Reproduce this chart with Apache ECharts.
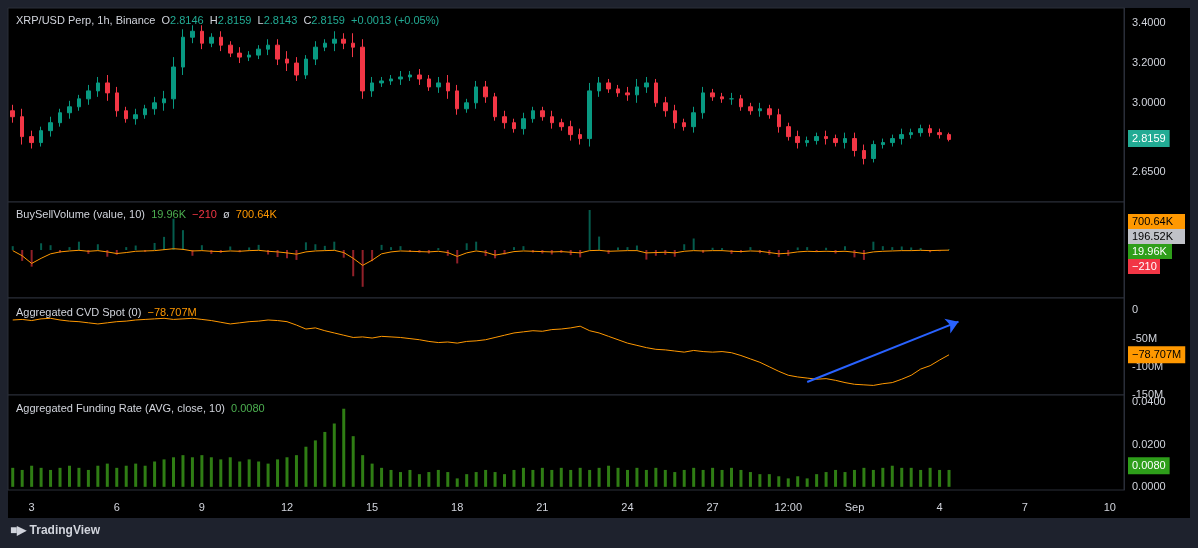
<!DOCTYPE html>
<html>
<head>
<meta charset="utf-8">
<script src="https://cdn.jsdelivr.net/npm/echarts@6/dist/echarts.min.js"></script>
<style>
html, body { margin: 0; padding: 0; background: #1e222d; }
#main { width: 1198px; height: 548px; }
</style>
</head>
<body>
<div id="main"></div>
<script>
// 8h candles, index i -> Aug 2 08:00 + i*8h
var closes = [2.93,2.83,2.80,2.86,2.90,2.95,2.98,3.02,3.06,3.10,
  3.05,2.96,2.92,2.94,2.97,3.00,3.02,3.18,3.33,3.36,
  3.30,3.33,3.29,3.25,3.23,3.24,3.27,3.29,3.22,3.20,
  3.14,3.22,3.28,3.30,3.32,3.30,3.28,3.06,3.10,3.11,
  3.12,3.13,3.14,3.12,3.08,3.10,3.06,2.97,3.00,3.08,
  3.03,2.93,2.90,2.87,2.92,2.96,2.93,2.90,2.88,2.84,
  2.82,3.06,3.10,3.07,3.05,3.04,3.08,3.10,3.00,2.96,
  2.90,2.88,2.95,3.05,3.03,3.02,3.02,2.98,2.96,2.97,
  2.94,2.88,2.83,2.80,2.81,2.83,2.82,2.80,2.82,2.76,
  2.72,2.79,2.80,2.82,2.84,2.85,2.87,2.85,2.84,2.8159];
var wicks = [.03,.04,.03,.02,.03,.02,.03,.02,.03,.03,
  .04,.03,.02,.03,.02,.03,.04,.05,.04,.03,
  .03,.02,.03,.02,.03,.02,.02,.03,.03,.04,
  .03,.02,.03,.02,.04,.03,.05,.04,.03,.02,
  .02,.03,.02,.03,.02,.03,.04,.03,.02,.03,
  .03,.02,.03,.02,.03,.02,.02,.03,.02,.03,
  .03,.04,.03,.02,.02,.03,.04,.03,.02,.03,
  .03,.02,.03,.03,.02,.02,.03,.02,.02,.03,
  .02,.03,.02,.03,.02,.02,.03,.02,.03,.03,
  .03,.02,.02,.02,.03,.02,.02,.02,.02,.01];
var buySell = [120,-340,-520,210,150,-80,90,260,-120,180,
  -210,-150,90,140,-60,220,410,980,620,-180,
  150,-120,-90,110,-70,80,160,-140,-220,-260,
  -310,240,180,130,260,-240,-820,-1150,-350,160,
  90,120,-60,-80,-110,60,-180,-420,210,260,
  -190,-260,-140,90,120,-80,-110,-140,-90,-160,
  -230,1250,420,-120,80,90,140,-300,-180,-150,
  -210,180,360,-90,70,60,-120,-80,90,-100,
  -150,-220,-180,80,90,-60,70,-110,120,-230,
  -310,260,120,90,110,80,60,-70,-40,19.96];
var bsLine = [-20,-180,-420,-260,-120,-60,-30,-10,-40,-20,
  -60,-110,-80,-40,-30,-20,10,40,20,-30,
  -20,-40,-50,-30,-40,-20,-10,-40,-60,-90,
  -130,-60,-30,-20,-10,-80,-260,-480,-320,-120,
  -60,-30,-40,-50,-60,-40,-80,-200,-90,-30,
  -70,-160,-110,-50,-30,-40,-50,-60,-50,-70,
  -90,-20,-10,-40,-30,-20,-20,-90,-80,-70,
  -90,-40,-20,-30,-20,-20,-40,-50,-30,-40,
  -80,-120,-100,-60,-40,-50,-40,-50,-40,-70,
  -110,-60,-40,-30,-20,-20,-10,-20,-10,-5];
var cvd = [-17,-16,-18,-15,-14,-17,-19,-20,-22,-24,
  -22,-20,-19,-17,-16,-15,-14,-16,-15,-14,
  -16,-18,-21,-24,-22,-20,-19,-17,-18,-20,
  -26,-33,-31,-36,-40,-44,-48,-47,-49,-46,
  -47,-48,-50,-52,-55,-57,-56,-58,-55,-54,
  -52,-48,-44,-40,-38,-36,-37,-34,-33,-31,
  -28,-36,-40,-46,-52,-58,-62,-66,-69,-70,
  -72,-74,-71,-73,-74,-73,-75,-80,-86,-92,
  -100,-108,-115,-118,-120,-122,-121,-124,-128,-131,
  -132,-133,-130,-128,-122,-115,-104,-98,-88,-78.707];
var funding = [.009,.008,.010,.009,.008,.009,.010,.009,.008,.010,
  .011,.009,.010,.011,.010,.012,.013,.014,.015,.014,
  .015,.014,.013,.014,.012,.013,.012,.011,.013,.014,
  .015,.019,.022,.026,.030,.037,.024,.015,.011,.009,
  .008,.007,.008,.006,.007,.008,.007,.004,.006,.007,
  .008,.007,.006,.008,.009,.008,.009,.008,.009,.008,
  .009,.008,.009,.010,.009,.008,.009,.008,.009,.008,
  .007,.008,.009,.008,.009,.008,.009,.008,.007,.006,
  .006,.005,.004,.005,.004,.006,.007,.008,.007,.008,
  .009,.008,.009,.010,.009,.009,.008,.009,.008,.008];
var tickLabels = {2:'3',11:'6',20:'9',29:'12',38:'15',47:'18',56:'21',65:'24',74:'27',
  82:'12:00',89:'Sep',98:'4',107:'7',116:'10'};
var nCats = 118;

var cats = [];
for (var i = 0; i < nCats; i++) cats.push(i);
var candles = closes.map(function (c, i) {
  var o = i === 0 ? 2.96 : closes[i - 1];
  return [o, c, Math.min(o, c) - wicks[i], Math.max(o, c) + wicks[i]];
});

var chart = echarts.init(document.getElementById('main'));
var GREEN = '#089981', RED = '#f23645', ORANGE = '#ff9800', TXT = '#d1d4dc';
var gl = 8, gr = 74;
var grids = [
  {top: 8, height: 194}, {top: 202, height: 96}, {top: 298, height: 97}, {top: 395, height: 95}
].map(function (g) {
  return {left: gl, right: gr, top: g.top, height: g.height, show: true,
    backgroundColor: '#000', borderColor: '#2a2e39', borderWidth: 1};
});
function xAx(idx, show) {
  return {type: 'category', gridIndex: idx, data: cats, boundaryGap: true,
    axisLine: {show: false}, axisTick: {show: false}, splitLine: {show: false},
    axisLabel: {show: show, color: TXT, fontSize: 11, margin: 12,
      interval: function (i) { return tickLabels[i] !== undefined; },
      formatter: function (v) { return tickLabels[v] || ''; }}};
}
function yAx(idx, min, max, vals, fmt) {
  return {type: 'value', gridIndex: idx, position: 'right', min: min, max: max,
    splitLine: {show: false}, axisTick: {show: false},
    axisLine: {show: true, lineStyle: {color: '#2a2e39'}},
    axisLabel: {color: TXT, fontSize: 11, margin: 8, customValues: vals, formatter: fmt}};
}
var tag = function (bg, fg, txt) {
  return {show: true, position: 'end', backgroundColor: bg, color: fg,
    padding: [3, 4], fontSize: 11, distance: 4, formatter: txt};
};
function priceTag(bg, fg, txt, y) {
  return {silent: true, symbol: 'none', lineStyle: {color: 'rgba(0,0,0,0)', width: 0},
    label: tag(bg, fg, txt), data: [{yAxis: y}]};
}

chart.setOption({
  backgroundColor: '#1e222d',
  animation: false,
  grid: grids,
  xAxis: [xAx(0, false), xAx(1, false), xAx(2, false), xAx(3, true)],
  yAxis: [
    yAx(0, 2.501, 3.477, [2.65, 3.0, 3.2, 3.4], function (v) { return v.toFixed(4); }),
    yAx(1, -1500, 1500, [], function (v) { return v; }),
    yAx(2, -150, 22, [0, -50, -100, -150], function (v) { return v === 0 ? '0' : v + 'M'; }),
    yAx(3, -0.0015, 0.0435, [0, 0.02, 0.04], function (v) { return v.toFixed(4); })
  ],
  series: [
    {type: 'candlestick', xAxisIndex: 0, yAxisIndex: 0, data: candles, barMaxWidth: 4,
      itemStyle: {color: GREEN, color0: RED, borderColor: GREEN, borderColor0: RED},
      markLine: priceTag('#22ab94', '#fff', '2.8159', 2.8159)},
    {type: 'bar', xAxisIndex: 1, yAxisIndex: 1, barWidth: 2,
      data: buySell.map(function (v) {
        return {value: v, itemStyle: {color: v >= 0 ? 'rgba(8,153,129,0.6)' : 'rgba(242,54,69,0.6)'}};
      })},
    {type: 'line', xAxisIndex: 1, yAxisIndex: 1, data: bsLine, showSymbol: false,
      lineStyle: {color: ORANGE, width: 1}},
    {type: 'line', xAxisIndex: 2, yAxisIndex: 2, data: cvd, showSymbol: false,
      lineStyle: {color: ORANGE, width: 1},
      markLine: priceTag(ORANGE, '#000', '\u221278.707M', -78.707)},
    {type: 'line', xAxisIndex: 2, yAxisIndex: 2, data: [],
      markLine: {silent: true, symbol: ['none', 'arrow'], symbolSize: 12,
        lineStyle: {color: '#2962ff', width: 2, type: 'solid'}, label: {show: false},
        data: [[{coord: [84, -127]}, {coord: [100, -20]}]]}},
    {type: 'bar', xAxisIndex: 3, yAxisIndex: 3, data: funding, barWidth: 3,
      itemStyle: {color: '#2f7d14'},
      markLine: priceTag('#2e9e1a', '#fff', '0.0080', 0.008)}
  ],
  graphic: [
    {type: 'rect', left: 1124, top: 8, shape: {width: 66, height: 510}, style: {fill: '#000'}, z: -10},
    {type: 'rect', left: 8, top: 490, shape: {width: 1182, height: 28}, style: {fill: '#000'}, z: -10},
    {type: 'text', left: 16, top: 15, style: {fontSize: 11,
      text: '{w|XRP/USD Perp, 1h, Binance}  {w|O}{g|2.8146}  {w|H}{g|2.8159}  {w|L}{g|2.8143}  {w|C}{g|2.8159}  {g|+0.0013 (+0.05%)}',
      rich: {w: {fill: TXT, fontSize: 11}, g: {fill: '#22ab94', fontSize: 11}}}},
    {type: 'text', left: 16, top: 209, style: {fontSize: 11,
      text: '{w|BuySellVolume (value, 10)}  {g|19.96K}  {r|\u2212210}  {w|\u00f8}  {o|700.64K}',
      rich: {w: {fill: TXT, fontSize: 11}, g: {fill: '#4caf50', fontSize: 11}, r: {fill: RED, fontSize: 11}, o: {fill: ORANGE, fontSize: 11}}}},
    {type: 'text', left: 16, top: 307, style: {fontSize: 11,
      text: '{w|Aggregated CVD Spot (0)}  {o|\u221278.707M}',
      rich: {w: {fill: TXT, fontSize: 11}, o: {fill: ORANGE, fontSize: 11}}}},
    {type: 'text', left: 16, top: 403, style: {fontSize: 11,
      text: '{w|Aggregated Funding Rate (AVG, close, 10)}  {g|0.0080}',
      rich: {w: {fill: TXT, fontSize: 11}, g: {fill: '#4caf50', fontSize: 11}}}},
    {type: 'rect', left: 1128, top: 214, shape: {width: 57, height: 15}, style: {fill: ORANGE}},
    {type: 'text', left: 1132, top: 216, style: {text: '700.64K', fill: '#000', fontSize: 11}},
    {type: 'rect', left: 1128, top: 229, shape: {width: 57, height: 15}, style: {fill: '#c0c2c8'}},
    {type: 'text', left: 1132, top: 231, style: {text: '196.52K', fill: '#000', fontSize: 11}},
    {type: 'rect', left: 1128, top: 244, shape: {width: 44, height: 15}, style: {fill: '#2e9e1a'}},
    {type: 'text', left: 1132, top: 246, style: {text: '19.96K', fill: '#fff', fontSize: 11}},
    {type: 'rect', left: 1128, top: 259, shape: {width: 32, height: 15}, style: {fill: RED}},
    {type: 'text', left: 1132, top: 261, style: {text: '\u2212210', fill: '#fff', fontSize: 11}},
    {type: 'text', left: 10, top: 525, style: {text: '\u25A0\u25B6 TradingView', fill: '#d1d4dc', fontSize: 12, fontWeight: 'bold'}}
  ]
});
</script>
</body>
</html>
